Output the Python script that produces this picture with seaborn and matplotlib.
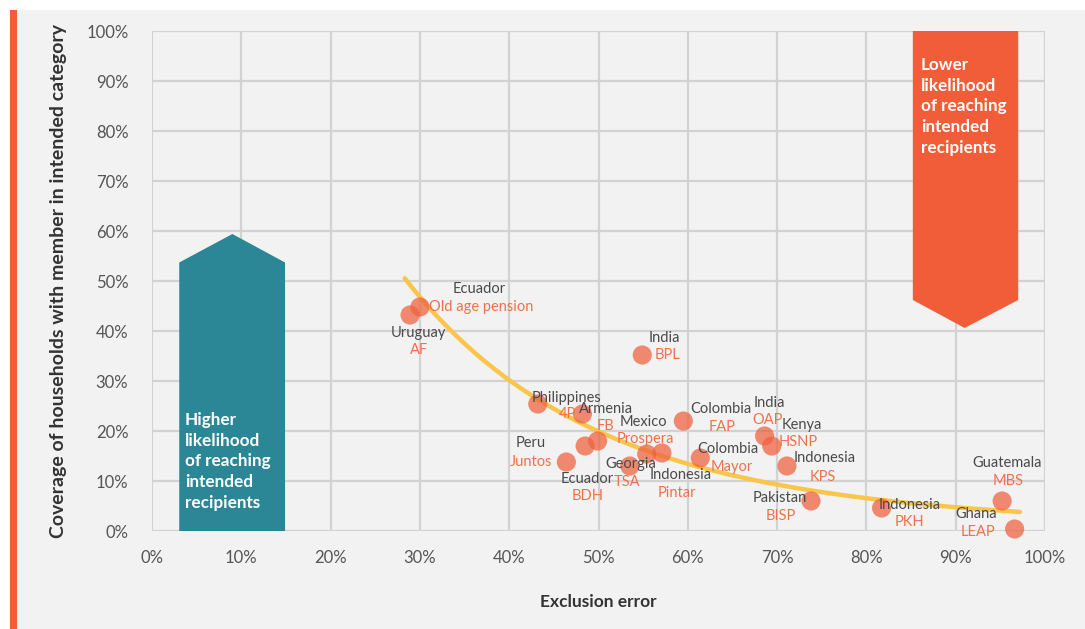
import numpy as np
import pandas as pd
import matplotlib
matplotlib.use("Agg")
import matplotlib.pyplot as plt
from matplotlib.patches import Polygon, Rectangle
import seaborn as sns

# ---------------- data ----------------
countries = ["Uruguay", "Ecuador", "India", "Philippines", "Armenia", "Peru",
             "Ecuador", "", "Georgia", "Mexico", "Indonesia", "Colombia",
             "Colombia", "India", "Kenya", "Indonesia", "Pakistan", "Indonesia",
             "Guatemala", "Ghana"]
programs = ["AF", "Old age pension", "BPL", "4P", "FB", "Juntos",
            "BDH", "", "TSA", "Prospera", "Pintar", "FAP",
            "Mayor", "OAP", "HSNP", "KPS", "BISP", "PKH",
            "MBS", "LEAP"]
exclusion_error = [28.9, 30.0, 54.9, 43.2, 48.2, 46.4,
                   48.5, 49.9, 53.5, 55.4, 57.1, 59.5,
                   61.4, 68.6, 69.4, 71.1, 73.8, 81.7,
                   95.2, 96.6]
coverage = [43.2, 44.8, 35.2, 25.4, 23.4, 13.8,
            17.0, 18.0, 13.0, 15.4, 15.6, 22.0,
            14.6, 19.0, 17.0, 13.0, 6.0, 4.6,
            6.0, 0.4]

# trend line points
trend_x = [28.3, 38.6, 50.2, 56.9, 62.8, 65.8, 80.0, 97.2]
trend_y = [50.4, 32.6, 19.2, 15.2, 12.2, 10.8, 6.6, 3.8]

x_ticks = list(range(0, 101, 10))
y_ticks = list(range(0, 101, 10))
tick_labels_x = [f"{t}%" for t in x_ticks]
tick_labels_y = [f"{t}%" for t in y_ticks]

# ---------------- label placement (pixel offsets: dx right, dy down) ----------------
country_off = [(8, 18), (59, -18), (22, -17), (29, -6), (24, -5), (-36, -19),
               (2, 33), (0, 0), (1, -2), (-3, -32), (19, 22), (38, -12),
               (28, -9), (5, -33), (30, -21), (38, -8), (-31, -3), (28, -3),
               (5, -38), (-38, -15)]
program_off = [(9, 35), (61, 0), (25, 0), (30, 10), (23, 12), (-35, 0),
               (3, 50), (0, 0), (-3, 16), (-1, -15), (15, 40), (39, 6),
               (31, 9), (3, -16), (26, -4), (36, 11), (-30, 15), (28, 14),
               (6, -20), (-37, 3)]

# ---------------- style ----------------
BG = "#f2f2f2"
GRID = "#d2d2d2"
DOT = "#f0603c"
PROG = "#f0704c"
TXT = "#4a4a4a"
TEAL = "#2b8696"
ORANGE = "#f15d38"
TREND = "#f9c54a"

sns.set_theme(style="white")
plt.rcParams["font.family"] = ["Lato", "DejaVu Sans"]

fig = plt.figure(figsize=(10.85, 6.29), dpi=100)
fig.patch.set_facecolor("white")
W, H = 1085, 629
fig.patches.append(Rectangle((10 / W, 0), 1 - 10 / W, 1 - 10 / H, transform=fig.transFigure,
                             facecolor=BG, edgecolor="none", zorder=-10))
fig.patches.append(Rectangle((10 / W, 0), 7 / W, 1 - 10 / H, transform=fig.transFigure,
                             facecolor="#f15d38", edgecolor="none", zorder=-9))

ax = fig.add_axes([152 / W, 1 - 531 / H, (1045 - 152) / W, (531 - 31) / H])
ax.set_facecolor(BG)
ax.set_xlim(0, 100)
ax.set_ylim(0, 100)
for s in ax.spines.values():
    s.set_visible(False)
for t in x_ticks:
    ax.axvline(t, color=GRID, lw=1.6, zorder=0)
for t in y_ticks:
    ax.axhline(t, color=GRID, lw=1.6, zorder=0)

# arrows (annotation shapes)
teal_shape = [(3.05, 0), (3.05, 53.7), (9.0, 59.4), (14.9, 53.7), (14.9, 0)]
orange_shape = [(85.2, 100), (85.2, 46.2), (91.0, 40.6), (97.0, 46.2), (97.0, 100)]
ax.add_patch(Polygon(teal_shape, closed=True, facecolor=TEAL, edgecolor="none", zorder=1))
ax.add_patch(Polygon(orange_shape, closed=True, facecolor=ORANGE, edgecolor="none", zorder=1))
ax.text(3.7, 23.8, "Higher\nlikelihood\nof reaching\nintended\nrecipients", color="white",
        fontsize=12.3, fontweight="bold", ha="left", va="top", linespacing=1.36, zorder=2)
ax.text(86.1, 94.8, "Lower\nlikelihood\nof reaching\nintended\nrecipients", color="white",
        fontsize=12.3, fontweight="bold", ha="left", va="top", linespacing=1.36, zorder=2)

# smooth trend line through the read curve points (quadratic fit in log space)
coef = np.polyfit(np.array(trend_x), np.log(np.array(trend_y)), 2)
tx = np.linspace(trend_x[0], trend_x[-1], 200)
trend_df = pd.DataFrame({"x": tx, "y": np.exp(np.polyval(coef, tx))})
sns.lineplot(data=trend_df, x="x", y="y", color=TREND, lw=3.2, ax=ax, zorder=3)

df = pd.DataFrame({"x": exclusion_error, "y": coverage, "country": countries, "program": programs})
sns.scatterplot(data=df, x="x", y="y", color=DOT, alpha=0.72, s=190, edgecolor="none",
                ax=ax, zorder=4, clip_on=False)

for i, row in df.iterrows():
    if row["country"]:
        dx, dy = country_off[i]
        ax.annotate(row["country"], (row["x"], row["y"]), xytext=(dx, -dy),
                    textcoords="offset pixels", ha="center", va="center",
                    fontsize=10.5, color=TXT, zorder=5)
    if row["program"]:
        dx, dy = program_off[i]
        ax.annotate(row["program"], (row["x"], row["y"]), xytext=(dx, -dy),
                    textcoords="offset pixels", ha="center", va="center",
                    fontsize=10.5, color=PROG, zorder=5)

ax.set_xticks(x_ticks)
ax.set_xticklabels(tick_labels_x)
ax.set_yticks(y_ticks)
ax.set_yticklabels(tick_labels_y)
ax.tick_params(axis="both", length=0, labelsize=12, labelcolor="#555555")
ax.tick_params(axis="x", pad=14)
ax.tick_params(axis="y", pad=17)
ax.set_xlabel("Exclusion error", fontsize=12.5, fontweight="bold", color="#333333", labelpad=20)
ax.set_ylabel("Coverage of households with member in intended category", fontsize=14,
              fontweight="bold", color="#333333", labelpad=14)

fig.savefig("out.png", dpi=100, facecolor=fig.get_facecolor())
